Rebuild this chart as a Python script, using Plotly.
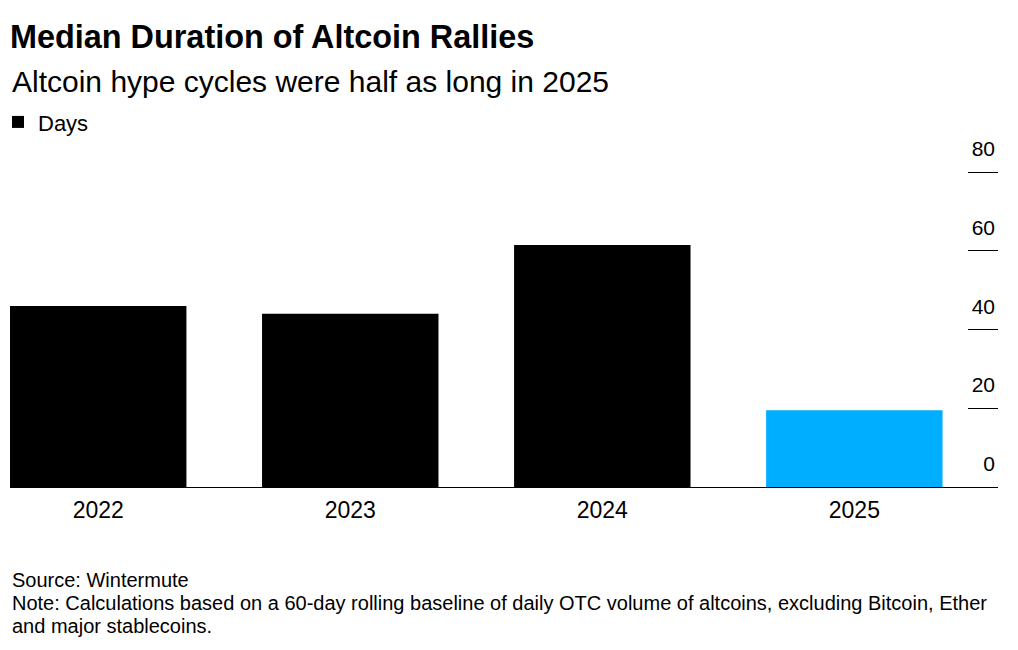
import plotly.graph_objects as go

years = ["2022", "2023", "2024", "2025"]
days = [46, 44, 61.5, 19.5]
bar_colors = ["#000000", "#000000", "#000000", "#00aeff"]
y_ticks = [0, 20, 40, 60, 80]

title = "Median Duration of Altcoin Rallies"
subtitle = "Altcoin hype cycles were half as long in 2025"
source = "Source: Wintermute"
note_1 = "Note: Calculations based on a 60-day rolling baseline of daily OTC volume of altcoins, excluding Bitcoin, Ether"
note_2 = "and major stablecoins."

FONT = "Liberation Sans"
OFF = 8  # page body margin
W, H = 1018 - OFF, 650 - OFF
# plot area in page pixels: left 10, right 998, y=0 at 487, y=80 at 172 -> extended above for top label room
PX_PER = (487 - 172) / 80
Y_MAX = 94
top_page = 487 - Y_MAX * PX_PER
L = 10 - OFF
R = W - (998 - OFF)
T = top_page - OFF
B = H - (487 - OFF)
PH = H - T - B
PW = W - L - R


def py(page_pixel):
    return (487 - page_pixel) / PH


fig = go.Figure()
fig.add_trace(go.Bar(
    x=list(range(len(years))), y=days, name="Days",
    marker=dict(color=bar_colors, line=dict(width=0)),
    width=0.7, showlegend=True,
))

fig.update_layout(
    width=W, height=H,
    margin=dict(l=L, r=R, t=T, b=B, pad=0, autoexpand=False),
    paper_bgcolor="white", plot_bgcolor="white",
    font=dict(family=FONT, color="#000000"),
    title=dict(text="<b>" + title + "</b>", x=L / W, xanchor="left", xref="container",
               y=1 - (37 - OFF) / H, yanchor="middle", yref="container",
               font=dict(size=32.4, family=FONT, color="#000000")),
    showlegend=True,
    legend=dict(orientation="h", x=-12 / PW, xanchor="left", y=py(122), yanchor="middle",
                font=dict(size=22, family=FONT, color="#000000"),
                bgcolor="rgba(0,0,0,0)", itemclick=False),
    xaxis=dict(range=[-0.35, 3.57], tickmode="array", tickvals=list(range(len(years))),
               ticktext=years, showline=True, linecolor="#000000", linewidth=1,
               showgrid=False, zeroline=False, ticks="", ticklabelstandoff=2,
               tickfont=dict(size=23, family=FONT, color="#000000"), fixedrange=True),
    yaxis=dict(range=[0, Y_MAX], side="right", tickmode="array", tickvals=y_ticks,
               showgrid=False, zeroline=False, showline=False,
               ticks="inside", ticklen=30, tickcolor="#000000", tickwidth=1,
               ticklabelposition="inside top", ticklabelshift=-8,
               tickfont=dict(size=21, family=FONT, color="#000000"), fixedrange=True),
    bargap=0.3,
)

fig.add_annotation(text=subtitle, xref="paper", yref="paper", x=0, y=py(81),
                   xanchor="left", yanchor="middle", showarrow=False,
                   font=dict(size=30, family=FONT, color="#000000"))
for txt, ypix in [(source, 580), (note_1, 603), (note_2, 626)]:
    fig.add_annotation(text=txt, xref="paper", yref="paper", x=0, y=py(ypix),
                       xanchor="left", yanchor="middle", showarrow=False, align="left",
                       font=dict(size=20, family=FONT, color="#000000"))

fig.write_html("out.html")
